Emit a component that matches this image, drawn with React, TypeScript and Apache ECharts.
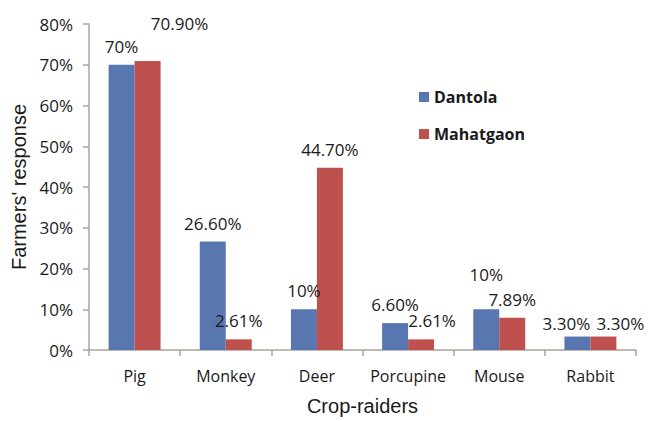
import React, { useEffect, useRef } from "react";
import * as echarts from "echarts";

const categories = ["Pig", "Monkey", "Deer", "Porcupine", "Mouse", "Rabbit"];
const dantola = [70, 26.6, 10, 6.6, 10, 3.3];
const mahatgaon = [70.9, 2.61, 44.7, 2.61, 7.89, 3.3];
const dantolaLabels = ["70%", "26.60%", "10%", "6.60%", "10%", "3.30%"];
const mahatgaonLabels = ["70.90%", "2.61%", "44.70%", "2.61%", "7.89%", "3.30%"];
const dantolaOffsets: [number, number][] = [[0, 0], [0, 0], [0, 0], [0, 0], [0, -16], [-11, 5]];
const mahatgaonOffsets: [number, number][] = [[32, -19], [0, 0], [0, 0], [11, 0], [0, 0], [17, 5]];

const BLUE = "#5876B0";
const RED = "#BE504D";
const AXIS = "#ADA39C";
const labelFont = "'Open Sans', sans-serif";

export default function App() {
  const ref = useRef<HTMLDivElement>(null);
  useEffect(() => {
    if (!ref.current) return;
    const chart = echarts.init(ref.current, null, { renderer: "svg" });
    const mkData = (vals: number[], labels: string[], offs: [number, number][]) =>
      vals.map((v, i) => ({
        value: v,
        label: { offset: offs[i], formatter: labels[i] },
      }));
    const labelBase = {
      show: true,
      position: "top",
      distance: 10,
      fontSize: 17,
      color: "#1a1a1a",
      fontFamily: labelFont,
    };
    chart.setOption({
      animation: false,
      grid: { left: 89, right: 12, top: 24, bottom: 66, containLabel: false },
      legend: {
        orient: "vertical",
        left: 414,
        top: 84,
        itemWidth: 10,
        itemHeight: 10,
        itemGap: 21,
        icon: "rect",
        textStyle: { fontSize: 16, fontWeight: "bold", color: "#1a1a1a", fontFamily: labelFont },
        data: ["Dantola", "Mahatgaon"],
      },
      xAxis: {
        type: "category",
        data: categories,
        name: "Crop-raiders",
        nameLocation: "middle",
        nameGap: 46,
        nameTextStyle: { fontSize: 20, color: "#1a1a1a", fontFamily: "'Liberation Sans', Arial, sans-serif" },
        axisLine: { lineStyle: { color: AXIS, width: 1.5 } },
        axisTick: { show: true, length: 6, lineStyle: { color: AXIS, width: 1.5 } },
        axisLabel: { interval: 0, hideOverlap: false, fontSize: 16, color: "#1a1a1a", margin: 18, fontFamily: labelFont },
      },
      yAxis: {
        type: "value",
        min: 0,
        max: 80,
        interval: 10,
        name: "Farmers' response",
        nameLocation: "middle",
        nameGap: 59,
        nameTextStyle: { fontSize: 20, color: "#1a1a1a", fontFamily: "'Liberation Sans', Arial, sans-serif" },
        axisLine: { show: true, lineStyle: { color: AXIS, width: 1.5 } },
        axisTick: { show: true, length: 6, lineStyle: { color: AXIS, width: 1.5 } },
        splitLine: { show: false },
        axisLabel: { fontSize: 17, color: "#1a1a1a", margin: 16, formatter: "{value}%", fontFamily: labelFont },
      },
      series: [
        {
          name: "Dantola",
          type: "bar",
          barGap: "0%",
          barCategoryGap: "43%",
          itemStyle: { color: BLUE },
          label: labelBase,
          data: mkData(dantola, dantolaLabels, dantolaOffsets),
        },
        {
          name: "Mahatgaon",
          type: "bar",
          barGap: "0%",
          barCategoryGap: "43%",
          itemStyle: { color: RED },
          label: labelBase,
          data: mkData(mahatgaon, mahatgaonLabels, mahatgaonOffsets),
        },
      ],
    });
    return () => chart.dispose();
  }, []);
  return <div ref={ref} style={{ width: 648, height: 421, position: "absolute", left: 0, top: 0, background: "#fff" }} />;
}
